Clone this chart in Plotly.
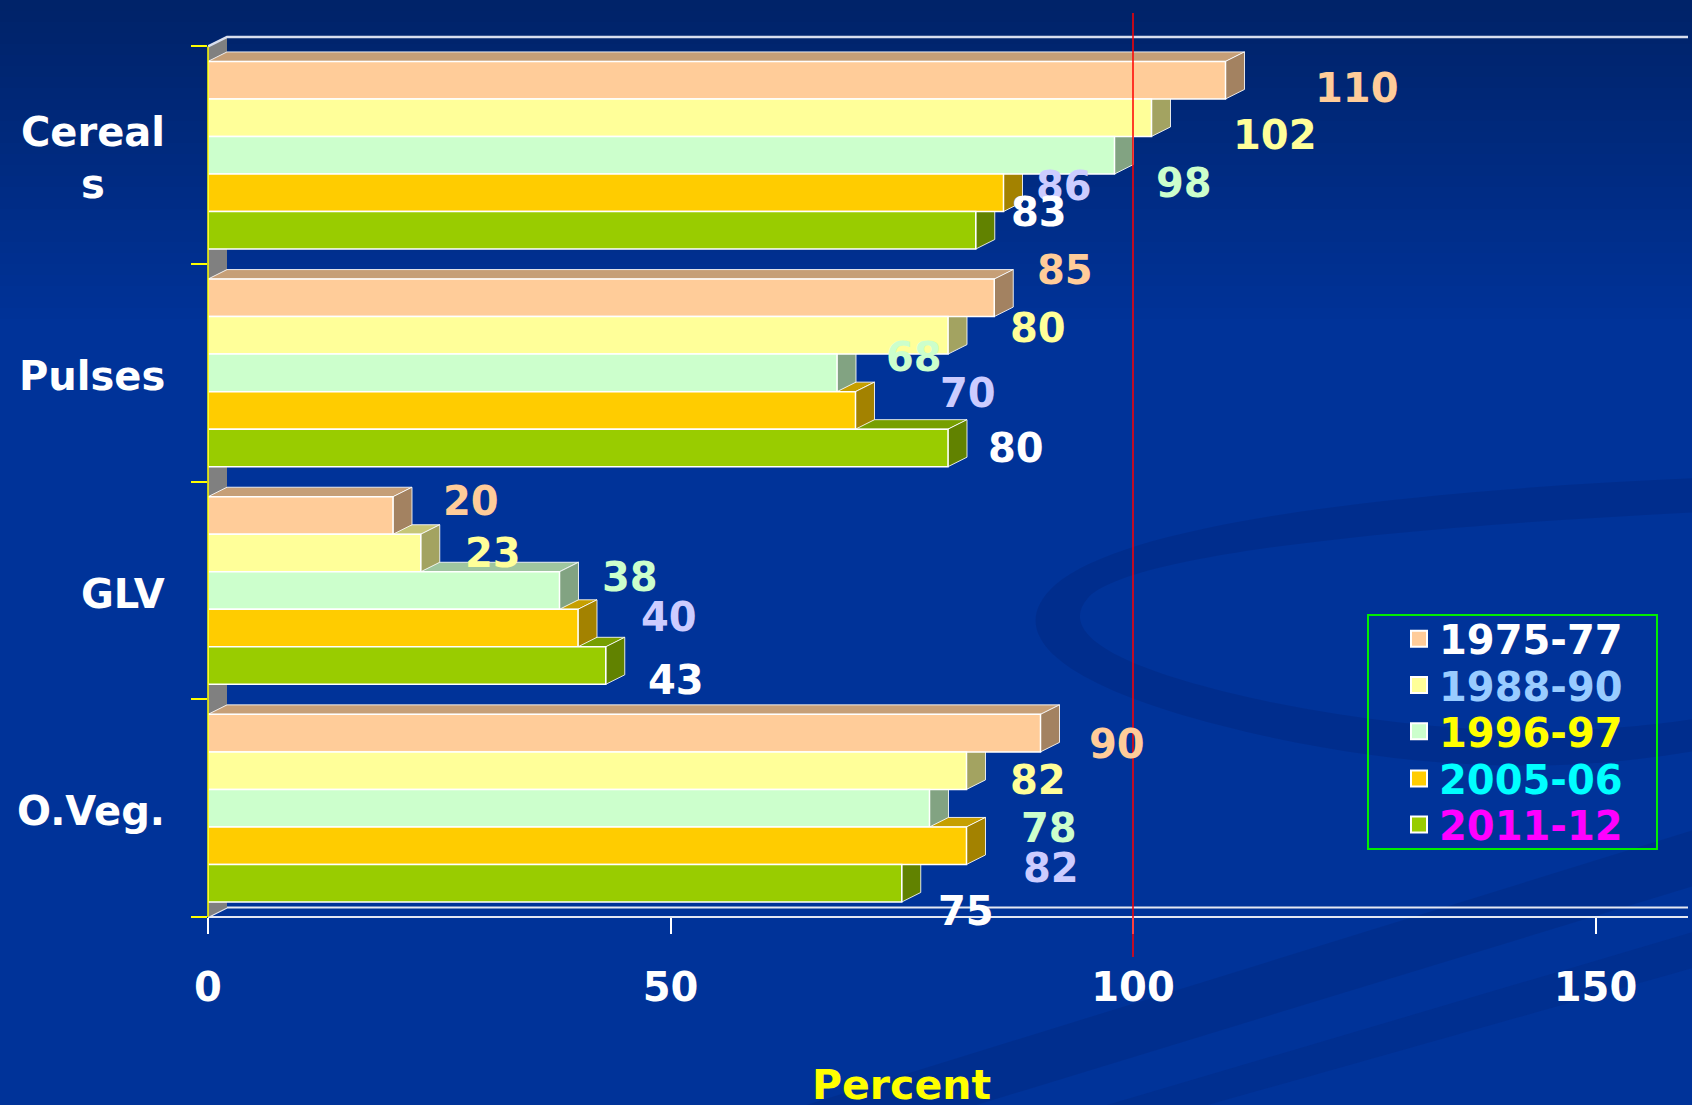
import plotly.graph_objects as go

# ---------------- data ----------------
categories = ["Cereals", "Pulses", "GLV", "O.Veg."]
category_labels = ["Cereal<br>s", "Pulses", "GLV", "O.Veg."]
periods = ["1975-77", "1988-90", "1996-97", "2005-06", "2011-12"]
pct_1975_77 = [110, 85, 20, 90]
pct_1988_90 = [102, 80, 23, 82]
pct_1996_97 = [98, 68, 38, 78]
pct_2005_06 = [86, 70, 40, 82]
pct_2011_12 = [83, 80, 43, 75]
x_tick_values = [0, 50, 100, 150]
x_axis_max = 160
norm_line = 100
axis_title = "Percent"

series = [pct_1975_77, pct_1988_90, pct_1996_97, pct_2005_06, pct_2011_12]

# ---------------- styling ----------------
FONT = "DejaVu Sans"
bar_colors = ["#FFCC99", "#FFFF99", "#CCFFCC", "#FFCC00", "#99CC00"]
value_colors = ["#FFCC99", "#FFFF99", "#CCFFCC", "#CCCCFF", "#FFFFFF"]
legend_colors = ["#FFFFFF", "#99CCFF", "#FFFF00", "#00FFFF", "#FF00FF"]

W, H = 1692, 1105
ML, MR, MT, MB = 208, 4, 30, 188
PW, PH = W - ML - MR, H - MT - MB
BOTTOM_PX = H - MB                 # pixel row of the floor front edge
BAND = (BOTTOM_PX - 46.4) / 4      # pixels per category
Y_TOP = 3.5 - PH / BAND            # axis value at the top of the plot area
PX_PER_X = PW / x_axis_max

BARGAP = 0.138
GROUP_W = 1 - BARGAP
BAR_W = GROUP_W / len(periods)
DEPTH_X = 19 / PX_PER_X            # 3-D depth, in x units
DEPTH_Y = 9.5 / BAND               # 3-D depth, in category units

# label nudges (pixels right, pixels down) from the end of each bar
label_nudge = [
    [(131, 8), (71, -28), (78, -14), (76, 11)],
    [(123, 17), (90, -7), (72, 0), (71, 9)],
    [(69, 28), (77, -16), (70, -14), (119, 20)],
    [(60, -7), (112, -17), (91, -11), (84, 22)],
    [(63, -18), (68, 0), (70, 14), (64, 28)],
]


def shade(hex_color, f):
    h = hex_color.lstrip("#")
    r, g, b = (int(h[k:k + 2], 16) for k in (0, 2, 4))
    return "#%02X%02X%02X" % (int(r * f), int(g * f), int(b * f))


def px_to_paper(xp, yp):
    return (xp - ML) / PW, (BOTTOM_PX - yp) / PH


def y_to_paper(y):
    return (3.5 - y) / (3.5 - Y_TOP)


def bar_center(cat_idx, series_idx):
    return cat_idx - GROUP_W / 2 + (series_idx + 0.5) * BAR_W


fig = go.Figure()
shapes = []

# background: dark top fading into the slide blue
n_strips = 30
for k in range(n_strips):
    t = k / (n_strips - 1)
    col = "rgb(%d,%d,%d)" % (0, int(35 + 16 * t), int(105 + 48 * t))
    y0p = 330 * k / n_strips
    y1p = 330 * (k + 1) / n_strips + 1
    x0, y0 = px_to_paper(0, y0p)
    x1, y1 = px_to_paper(W, y1p)
    shapes.append(dict(type="rect", xref="paper", yref="paper", x0=x0, x1=x1,
                       y0=y0, y1=y1, fillcolor=col, line=dict(width=0), layer="below"))


def paper_path(points):
    pts = [px_to_paper(a, b) for a, b in points]
    return "M " + " L ".join("%.5f,%.5f" % p for p in pts) + " Z"


def paper_curve(cmds):
    out = []
    for cmd, pts in cmds:
        conv = [px_to_paper(a, b) for a, b in pts]
        out.append(cmd + " " + " ".join("%.5f,%.5f" % p for p in conv))
    return " ".join(out) + " Z"


# faint swirl decoration of the slide template
swirl = paper_curve([
    ("M", [(1700, 478)]),
    ("C", [(1420, 490), (1130, 520), (1055, 585)]),
    ("C", [(1000, 635), (1060, 690), (1260, 735)]),
    ("C", [(1420, 770), (1560, 775), (1700, 750)]),
    ("L", [(1700, 718)]),
    ("C", [(1560, 740), (1420, 732), (1270, 702)]),
    ("C", [(1110, 668), (1058, 632), (1088, 598)]),
    ("C", [(1130, 552), (1420, 526), (1700, 512)]),
])
shapes.append(dict(type="path", xref="paper", yref="paper", path=swirl,
                   fillcolor="rgba(0,25,95,0.2)", line=dict(width=0), layer="below"))
shapes.append(dict(type="path", xref="paper", yref="paper",
                   path=paper_path([(790, 1110), (1700, 828), (1700, 884), (960, 1110)]),
                   fillcolor="rgba(0,25,95,0.18)", line=dict(width=0), layer="below"))
shapes.append(dict(type="path", xref="paper", yref="paper",
                   path=paper_path([(1090, 1110), (1700, 930), (1700, 966), (1190, 1110)]),
                   fillcolor="rgba(0,25,95,0.15)", line=dict(width=0), layer="below"))

# left wall of the 3-D box
shapes.append(dict(type="path", xref="x", yref="y",
                   path="M 0,-0.5 L %f,%f L %f,%f L 0,3.5 Z" % (
                       DEPTH_X, -0.5 - DEPTH_Y, DEPTH_X, 3.5 - DEPTH_Y),
                   fillcolor="#808080", line=dict(width=0), layer="below"))
# top edge of the back wall
shapes.append(dict(type="path", xref="x", yref="y",
                   path="M 0,-0.5 L %f,%f L %f,%f" % (
                       DEPTH_X, -0.5 - DEPTH_Y, x_axis_max + DEPTH_X, -0.5 - DEPTH_Y),
                   line=dict(color="#D8DEEE", width=2.5), layer="below"))
# floor
fy = y_to_paper(3.5 - DEPTH_Y)
shapes.append(dict(type="path", xref="x", yref="paper",
                   path="M 0,0 L %f,0 L %f,%f L %f,%f Z" % (
                       x_axis_max, x_axis_max + DEPTH_X, fy, DEPTH_X, fy),
                   line=dict(color="#E4E8F2", width=2), layer="below"))

# top and side faces of each bar, painted from the bottom bar upwards
for c in reversed(range(len(categories))):
    for i in reversed(range(len(periods))):
        v = series[i][c]
        yc = bar_center(c, i)
        top, bot = yc - BAR_W / 2, yc + BAR_W / 2
        base = bar_colors[i]
        shapes.append(dict(
            type="path", xref="x", yref="y", layer="below",
            path="M 0,%f L %f,%f L %f,%f L %f,%f Z" % (
                top, v, top, v + DEPTH_X, top - DEPTH_Y, DEPTH_X, top - DEPTH_Y),
            fillcolor=shade(base, 0.78), line=dict(color="rgba(255,255,255,0.85)", width=1)))
        shapes.append(dict(
            type="path", xref="x", yref="y", layer="below",
            path="M %f,%f L %f,%f L %f,%f L %f,%f Z" % (
                v, top, v, bot, v + DEPTH_X, bot - DEPTH_Y, v + DEPTH_X, top - DEPTH_Y),
            fillcolor=shade(base, 0.64), line=dict(color="rgba(255,255,255,0.85)", width=1)))

# front faces of the bars
for i, name in enumerate(periods):
    fig.add_trace(go.Bar(
        x=series[i],
        y=[bar_center(c, i) for c in range(len(categories))],
        width=BAR_W,
        orientation="h",
        name=name,
        customdata=categories,
        hovertemplate="%{customdata}<br>" + name + ": %{x}<extra></extra>",
        marker=dict(color=bar_colors[i], line=dict(color="white", width=1.5)),
        showlegend=False,
    ))

# legend entries, one legend per period so each can carry its own text colour
legend_rows_px = [638.8, 685.0, 731.2, 778.4, 824.6]
layout_legends = {}
for i, name in enumerate(periods):
    key = "legend" if i == 0 else "legend%d" % (i + 1)
    fig.add_trace(go.Scatter(
        x=[None], y=[None], mode="markers", name=name, legend=key,
        marker=dict(symbol="square", size=16, color=bar_colors[i],
                    line=dict(color="white", width=2)),
        hoverinfo="skip",
    ))
    lx, ly = px_to_paper(1399, legend_rows_px[i])
    layout_legends[key] = dict(
        x=lx, y=ly, xanchor="left", yanchor="middle",
        bgcolor="rgba(0,0,0,0)", borderwidth=0, itemsizing="trace",
        font=dict(family=FONT, size=40, color=legend_colors[i], weight="bold"),
    )

lb0 = px_to_paper(1368, 849)
lb1 = px_to_paper(1657, 615)
shapes.append(dict(type="rect", xref="paper", yref="paper",
                   x0=lb0[0], y0=lb0[1], x1=lb1[0], y1=lb1[1],
                   line=dict(color="#00EE00", width=2), fillcolor="rgba(0,0,0,0)",
                   layer="above"))

# y axis line (yellow) and the 100 % reference line (red)
shapes.append(dict(type="line", xref="paper", yref="y", x0=0, x1=0, y0=-0.5, y1=3.5,
                   line=dict(color="#FFFF00", width=1.5), layer="above"))
r0 = px_to_paper(0, 957)[1]
r1 = px_to_paper(0, 13)[1]
shapes.append(dict(type="line", xref="x", yref="paper", x0=norm_line, x1=norm_line,
                   y0=r0, y1=r1, line=dict(color="#FF0000", width=1.5), layer="above"))

annotations = []
# value labels
for i in range(len(periods)):
    for c in range(len(categories)):
        dx, dy = label_nudge[i][c]
        annotations.append(dict(
            x=series[i][c], y=bar_center(c, i), xref="x", yref="y",
            text=str(series[i][c]), showarrow=False,
            xanchor="center", yanchor="middle", xshift=dx, yshift=-dy,
            font=dict(family=FONT, size=40, color=value_colors[i], weight="bold"),
        ))
# category labels
cat_x = px_to_paper(167, 0)[0]
for c, lab in enumerate(category_labels):
    annotations.append(dict(
        x=cat_x, y=c, xref="paper", yref="y", text=lab, showarrow=False,
        xanchor="right", yanchor="middle", align="center", yshift=-3,
        font=dict(family=FONT, size=40, color="white", weight="bold"),
    ))
# axis title
tx, ty = px_to_paper(901, 1084.5)
annotations.append(dict(
    x=tx, y=ty, xref="paper", yref="paper", text=axis_title, showarrow=False,
    xanchor="center", yanchor="middle",
    font=dict(family=FONT, size=41, color="#FFFF00", weight="bold"),
))

fig.update_layout(
    width=W, height=H,
    margin=dict(l=ML, r=MR, t=MT, b=MB, pad=0),
    paper_bgcolor="#003399",
    plot_bgcolor="rgba(0,0,0,0)",
    barmode="overlay",
    shapes=shapes,
    annotations=annotations,
    showlegend=True,
    xaxis=dict(
        range=[0, x_axis_max], tickvals=x_tick_values, ticks="outside",
        ticklen=16, tickwidth=1.5, tickcolor="white",
        tickfont=dict(family=FONT, size=40, color="white", weight="bold"),
        ticklabelstandoff=19,
        showline=False, showgrid=False, zeroline=False,
    ),
    yaxis=dict(
        range=[3.5, Y_TOP], tickvals=[-0.5, 0.5, 1.5, 2.5, 3.5],
        ticks="outside", ticklen=16, tickwidth=2, tickcolor="#FFFF00",
        showticklabels=False, showline=False, showgrid=False, zeroline=False,
    ),
    **layout_legends,
)

fig.write_html("out.html")
